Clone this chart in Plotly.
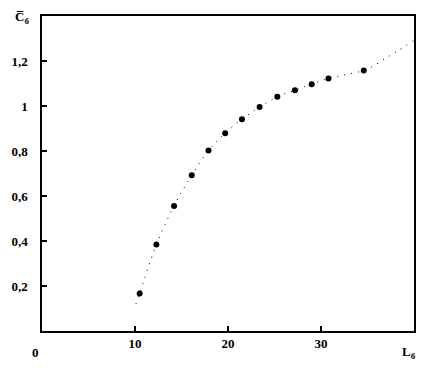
import plotly.graph_objects as go

# measured points
pts_x = [10.5, 12.3, 14.2, 16.1, 17.9, 19.7, 21.5, 23.4, 25.3, 27.2, 29.0, 30.8, 34.6]
pts_y = [0.167, 0.384, 0.556, 0.692, 0.802, 0.879, 0.941, 0.995, 1.041, 1.07, 1.097, 1.122, 1.158]

# fitted (dotted) curve
curve_x = [10.1, 10.5, 12.3, 14.2, 16.1, 17.9, 19.7, 21.5, 23.4, 25.3, 27.2, 29.0, 30.8, 32.7, 34.6, 36.0, 37.0, 38.1, 40.0]
curve_y = [0.12, 0.167, 0.384, 0.556, 0.692, 0.802, 0.879, 0.941, 0.995, 1.041, 1.07, 1.097, 1.122, 1.14, 1.158, 1.187, 1.214, 1.241, 1.292]

y_ticks = [0.2, 0.4, 0.6, 0.8, 1.0, 1.2]
y_labels = ["0,2", "0,4", "0,6", "0,8", "1", "1,2"]
x_ticks = [10, 20, 30]
x_labels = ["10", "20", "30"]

FONT = dict(family="Liberation Serif, Times New Roman, serif", size=13, color="black")

fig = go.Figure()
fig.add_trace(go.Scatter(x=curve_x, y=curve_y, mode="lines",
                         line=dict(color="black", width=1, dash="1px,6px", shape="spline"),
                         hoverinfo="skip", showlegend=False))
fig.add_trace(go.Scatter(x=pts_x, y=pts_y, mode="markers",
                         marker=dict(color="black", size=6, symbol="circle"),
                         showlegend=False))

fig.update_layout(
    width=432, height=368,
    margin=dict(l=42, r=18, t=16, b=37),
    paper_bgcolor="white", plot_bgcolor="white",
    font=FONT,
    xaxis=dict(range=[0, 40], tickvals=x_ticks, ticktext=["<b>%s</b>" % t for t in x_labels],
               showgrid=False, zeroline=False, showline=True, mirror=True,
               linecolor="black", linewidth=1.5,
               ticks="inside", ticklen=5, tickcolor="black", tickwidth=1.5,
               tickfont=FONT),
    yaxis=dict(range=[0, 1.4], tickvals=y_ticks, ticktext=["<b>%s</b>" % t for t in y_labels],
               showgrid=False, zeroline=False, showline=True, mirror=True,
               linecolor="black", linewidth=1.5,
               ticks="inside", ticklen=5, tickcolor="black", tickwidth=1.5,
               ticklabelstandoff=10, tickfont=FONT),
    annotations=[
        dict(text="<b>0</b>", xref="paper", yref="paper", x=0, y=0, xshift=-7, yshift=-21,
             showarrow=False, xanchor="center", yanchor="middle", font=FONT),
        dict(text="<b>L<sub>б</sub></b>", xref="paper", yref="paper", x=1, y=0, xshift=-5, yshift=-21,
             showarrow=False, xanchor="center", yanchor="middle", font=FONT),
        dict(text="<b>C\u0305<sub>б</sub></b>", xref="paper", yref="paper", x=0, y=1, xshift=-20, yshift=-1,
             showarrow=False, xanchor="center", yanchor="middle", font=FONT),
    ],
)

fig.write_html("out.html", config={"displayModeBar": False},
               post_script="document.body.style.margin='0';document.body.style.padding='0';")
